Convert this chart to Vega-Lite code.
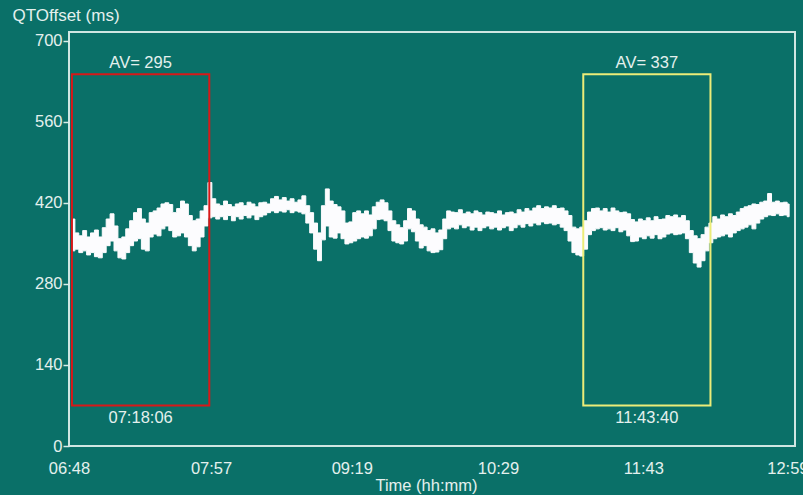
{
  "$schema": "https://vega.github.io/schema/vega-lite/v6.json",
  "width": 726,
  "height": 414,
  "autosize": {"type": "none"},
  "padding": {"left": 69, "top": 32, "right": 8, "bottom": 49},
  "background": "#0a7068",
  "config": {
    "view": {"stroke": "#cfe6e2", "strokeWidth": 2, "fill": "#0a7068"},
    "font": "Liberation Sans",
    "text": {"font": "Liberation Sans"}
  },
  "datasets": {
    "trace": [
      {"t":2,"hi":392,"lo":337},{"t":4,"hi":368,"lo":340},{"t":6,"hi":363,"lo":334},{"t":8,"hi":372,"lo":337},
      {"t":10,"hi":361,"lo":330},{"t":12,"hi":368,"lo":334},{"t":14,"hi":373,"lo":327},{"t":16,"hi":361,"lo":325},
      {"t":18,"hi":377,"lo":334},{"t":20,"hi":392,"lo":346},{"t":22,"hi":401,"lo":354},{"t":24,"hi":380,"lo":337},
      {"t":26,"hi":358,"lo":325},{"t":28,"hi":361,"lo":323},{"t":30,"hi":375,"lo":334},{"t":32,"hi":389,"lo":346},
      {"t":34,"hi":403,"lo":354},{"t":36,"hi":410,"lo":358},{"t":38,"hi":392,"lo":340},{"t":40,"hi":385,"lo":337},
      {"t":42,"hi":403,"lo":361},{"t":44,"hi":406,"lo":366},{"t":46,"hi":411,"lo":363},{"t":48,"hi":418,"lo":375},
      {"t":50,"hi":420,"lo":380},{"t":52,"hi":417,"lo":372},{"t":54,"hi":403,"lo":361},{"t":56,"hi":410,"lo":363},
      {"t":58,"hi":423,"lo":368},{"t":60,"hi":418,"lo":361},{"t":62,"hi":398,"lo":346},{"t":64,"hi":389,"lo":337},
      {"t":66,"hi":392,"lo":344},{"t":68,"hi":406,"lo":361},{"t":70,"hi":415,"lo":380},{"t":72,"hi":455,"lo":394},
      {"t":74,"hi":427,"lo":396},{"t":76,"hi":418,"lo":392},{"t":78,"hi":415,"lo":396},{"t":80,"hi":423,"lo":391},
      {"t":82,"hi":417,"lo":398},{"t":84,"hi":413,"lo":389},{"t":86,"hi":418,"lo":396},{"t":88,"hi":420,"lo":392},
      {"t":90,"hi":415,"lo":398},{"t":92,"hi":421,"lo":394},{"t":94,"hi":418,"lo":399},{"t":96,"hi":413,"lo":391},
      {"t":98,"hi":420,"lo":396},{"t":100,"hi":421,"lo":399},{"t":102,"hi":418,"lo":403},{"t":104,"hi":427,"lo":406},
      {"t":106,"hi":431,"lo":403},{"t":108,"hi":425,"lo":406},{"t":110,"hi":429,"lo":404},{"t":112,"hi":423,"lo":408},
      {"t":114,"hi":427,"lo":403},{"t":116,"hi":421,"lo":406},{"t":118,"hi":425,"lo":404},{"t":120,"hi":432,"lo":401},
      {"t":122,"hi":415,"lo":385},{"t":124,"hi":403,"lo":368},{"t":126,"hi":385,"lo":340},{"t":128,"hi":368,"lo":320},
      {"t":130,"hi":415,"lo":356},{"t":132,"hi":444,"lo":380},{"t":134,"hi":423,"lo":361},{"t":136,"hi":417,"lo":359},
      {"t":138,"hi":413,"lo":368},{"t":140,"hi":406,"lo":358},{"t":142,"hi":385,"lo":349},{"t":144,"hi":387,"lo":351},
      {"t":146,"hi":403,"lo":354},{"t":148,"hi":406,"lo":358},{"t":150,"hi":401,"lo":361},{"t":152,"hi":406,"lo":359},
      {"t":154,"hi":399,"lo":363},{"t":156,"hi":413,"lo":375},{"t":158,"hi":421,"lo":391},{"t":160,"hi":425,"lo":392},
      {"t":162,"hi":420,"lo":389},{"t":164,"hi":406,"lo":372},{"t":166,"hi":389,"lo":354},{"t":168,"hi":382,"lo":351},
      {"t":170,"hi":377,"lo":349},{"t":172,"hi":389,"lo":354},{"t":174,"hi":410,"lo":375},{"t":176,"hi":406,"lo":370},
      {"t":178,"hi":392,"lo":354},{"t":180,"hi":382,"lo":342},{"t":182,"hi":378,"lo":346},{"t":184,"hi":372,"lo":337},
      {"t":186,"hi":375,"lo":334},{"t":188,"hi":368,"lo":335},{"t":190,"hi":373,"lo":339},{"t":192,"hi":392,"lo":358},
      {"t":194,"hi":406,"lo":375},{"t":196,"hi":404,"lo":378},{"t":198,"hi":403,"lo":375},{"t":200,"hi":408,"lo":382},
      {"t":202,"hi":401,"lo":377},{"t":204,"hi":404,"lo":380},{"t":206,"hi":401,"lo":373},{"t":208,"hi":406,"lo":378},
      {"t":210,"hi":403,"lo":372},{"t":212,"hi":399,"lo":377},{"t":214,"hi":404,"lo":380},{"t":216,"hi":403,"lo":375},
      {"t":218,"hi":401,"lo":378},{"t":220,"hi":406,"lo":373},{"t":222,"hi":399,"lo":377},{"t":224,"hi":403,"lo":380},
      {"t":226,"hi":404,"lo":372},{"t":228,"hi":401,"lo":377},{"t":230,"hi":408,"lo":382},{"t":232,"hi":404,"lo":378},
      {"t":234,"hi":410,"lo":384},{"t":236,"hi":406,"lo":380},{"t":238,"hi":411,"lo":385},{"t":240,"hi":415,"lo":382},
      {"t":242,"hi":410,"lo":387},{"t":244,"hi":413,"lo":384},{"t":246,"hi":411,"lo":385},{"t":248,"hi":415,"lo":382},
      {"t":250,"hi":410,"lo":384},{"t":252,"hi":411,"lo":378},{"t":254,"hi":406,"lo":372},{"t":256,"hi":398,"lo":354},
      {"t":258,"hi":378,"lo":334},{"t":260,"hi":375,"lo":330},{"t":262,"hi":378,"lo":328},{"t":264,"hi":389,"lo":340},
      {"t":266,"hi":404,"lo":365},{"t":268,"hi":410,"lo":372},{"t":270,"hi":411,"lo":375},{"t":272,"hi":406,"lo":377},
      {"t":274,"hi":410,"lo":373},{"t":276,"hi":404,"lo":375},{"t":278,"hi":411,"lo":372},{"t":280,"hi":406,"lo":377},
      {"t":282,"hi":403,"lo":370},{"t":284,"hi":404,"lo":373},{"t":286,"hi":401,"lo":363},{"t":288,"hi":391,"lo":353},
      {"t":290,"hi":387,"lo":354},{"t":292,"hi":392,"lo":361},{"t":294,"hi":389,"lo":358},{"t":296,"hi":394,"lo":363},
      {"t":298,"hi":389,"lo":359},{"t":300,"hi":396,"lo":365},{"t":302,"hi":391,"lo":358},{"t":304,"hi":392,"lo":361},
      {"t":306,"hi":398,"lo":366},{"t":308,"hi":396,"lo":368},{"t":310,"hi":399,"lo":365},{"t":312,"hi":394,"lo":366},
      {"t":314,"hi":398,"lo":368},{"t":316,"hi":389,"lo":358},{"t":318,"hi":372,"lo":334},{"t":320,"hi":363,"lo":316},
      {"t":322,"hi":358,"lo":309},{"t":324,"hi":365,"lo":320},{"t":326,"hi":378,"lo":337},{"t":328,"hi":385,"lo":351},
      {"t":330,"hi":396,"lo":358},{"t":332,"hi":392,"lo":361},{"t":334,"hi":399,"lo":363},{"t":336,"hi":396,"lo":366},
      {"t":338,"hi":401,"lo":361},{"t":340,"hi":398,"lo":368},{"t":342,"hi":404,"lo":372},{"t":344,"hi":410,"lo":375},
      {"t":346,"hi":413,"lo":378},{"t":348,"hi":415,"lo":382},{"t":350,"hi":418,"lo":375},{"t":352,"hi":417,"lo":385},
      {"t":354,"hi":421,"lo":392},{"t":356,"hi":423,"lo":396},{"t":358,"hi":436,"lo":399},{"t":360,"hi":421,"lo":398},
      {"t":362,"hi":423,"lo":401},{"t":364,"hi":420,"lo":398},{"t":366,"hi":421,"lo":399},{"t":368,"hi":418,"lo":396}
    ],
    "boxes": [
      {"window": "A", "start": 1.5, "end": 71.7, "lo": 70, "hi": 642, "av": "AV= 295", "time": "07:18:06"},
      {"window": "B", "start": 262.8, "end": 327.8, "lo": 70, "hi": 642, "av": "AV= 337", "time": "11:43:40"}
    ]
  },
  "layer": [
    {
      "data": {"name": "trace"},
      "mark": {"type": "area", "interpolate": "step", "color": "#fcfcfe", "stroke": "#fcfcfe", "strokeWidth": 1},
      "encoding": {
        "x": {
          "field": "t", "type": "quantitative",
          "scale": {"domain": [0, 371], "nice": false, "zero": false},
          "axis": {
            "values": [0, 72.6, 144.5, 219.2, 293.5, 367.1],
            "labelExpr": "datum.value < 30 ? '06:48' : datum.value < 100 ? '07:57' : datum.value < 180 ? '09:19' : datum.value < 250 ? '10:29' : datum.value < 330 ? '11:43' : '12:59'",
            "domain": false, "ticks": false, "grid": false,
            "labelPadding": 14, "labelOverlap": false, "labelBound": false, "labelFlush": false,
            "labelFont": "Liberation Sans", "labelFontSize": 16.5, "labelColor": "#e4f0ee",
            "title": "Time (hh:mm)", "titleFont": "Liberation Sans", "titleFontSize": 16.5,
            "titleFontWeight": "normal", "titleColor": "#e4f0ee",
            "titleX": 357, "titleY": 44, "titleBaseline": "alphabetic", "titleAlign": "center"
          }
        },
        "y": {
          "field": "hi", "type": "quantitative",
          "scale": {"domain": [0, 715], "nice": false},
          "axis": {
            "values": [0, 140, 280, 420, 560, 700],
            "domain": false, "grid": false,
            "tickSize": 6, "tickColor": "#d8ece8", "tickWidth": 1.5,
            "labelPadding": 1, "labelFont": "Liberation Sans", "labelFontSize": 16.5, "labelColor": "#e4f0ee",
            "title": "QTOffset (ms)", "titleAngle": 0, "titleAlign": "left", "titleBaseline": "alphabetic",
            "titleX": -57, "titleY": -12, "titleFont": "Liberation Sans", "titleFontSize": 17,
            "titleFontWeight": "normal", "titleColor": "#e4f0ee"
          }
        },
        "y2": {"field": "lo"}
      }
    },
    {
      "data": {"name": "boxes"},
      "mark": {"type": "rect", "filled": false, "strokeWidth": 2},
      "encoding": {
        "x": {"field": "start", "type": "quantitative"},
        "x2": {"field": "end"},
        "y": {"field": "lo", "type": "quantitative"},
        "y2": {"field": "hi"},
        "stroke": {"field": "window", "type": "nominal", "scale": {"domain": ["A", "B"], "range": ["#d81818", "#ecec78"]}, "legend": null}
      }
    },
    {
      "data": {"name": "boxes"},
      "transform": [{"calculate": "(datum.start + datum.end) / 2", "as": "mid"}],
      "mark": {"type": "text", "baseline": "alphabetic", "align": "center", "dy": -6, "fontSize": 16.5, "color": "#e4f0ee"},
      "encoding": {
        "x": {"field": "mid", "type": "quantitative"},
        "y": {"field": "hi", "type": "quantitative"},
        "text": {"field": "av"}
      }
    },
    {
      "data": {"name": "boxes"},
      "transform": [{"calculate": "(datum.start + datum.end) / 2", "as": "mid"}],
      "mark": {"type": "text", "baseline": "alphabetic", "align": "center", "dy": 17.5, "fontSize": 16.5, "color": "#e4f0ee"},
      "encoding": {
        "x": {"field": "mid", "type": "quantitative"},
        "y": {"field": "lo", "type": "quantitative"},
        "text": {"field": "time"}
      }
    }
  ]
}
